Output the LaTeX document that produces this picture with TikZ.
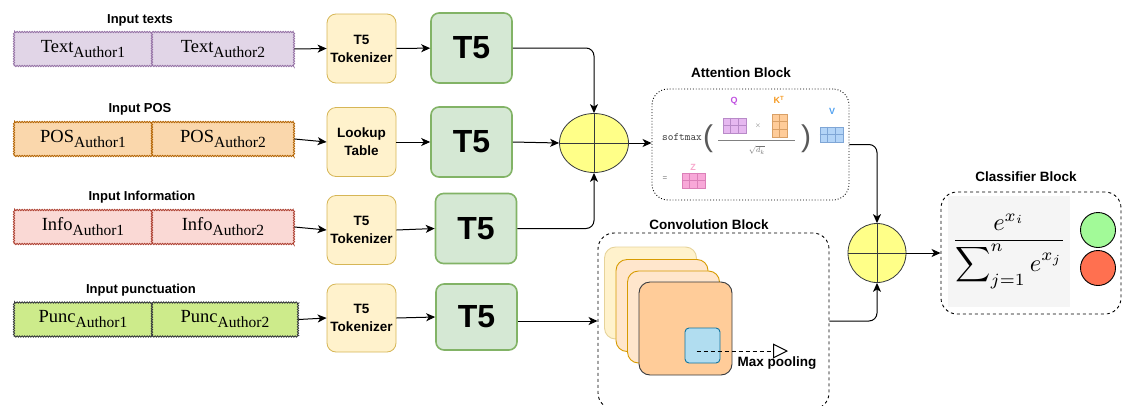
\documentclass[tikz,border=0pt]{standalone}
\usepackage{amsmath}
\usepackage{graphicx}
\usepackage[no-math]{fontspec}
\setmainfont{Liberation Sans}
\newfontfamily\serifface{Liberation Serif}
\usetikzlibrary{shapes.geometric, arrows.meta, positioning, calc, decorations.pathmorphing}
\definecolor{textfill}{HTML}{E1D5E7}
\definecolor{textdraw}{HTML}{9673A6}
\definecolor{posfill}{HTML}{FAD7AC}
\definecolor{posdraw}{HTML}{B46504}
\definecolor{infofill}{HTML}{FAD9D5}
\definecolor{infodraw}{HTML}{AE4132}
\definecolor{puncfill}{HTML}{CDEB8B}
\definecolor{puncdraw}{HTML}{36393D}
\definecolor{tokfill}{HTML}{FFF2CC}
\definecolor{tokdraw}{HTML}{D6B656}
\definecolor{tfivefill}{HTML}{D5E8D4}
\definecolor{tfivedraw}{HTML}{82B366}
\definecolor{sumfill}{HTML}{FFFF88}
\definecolor{darkline}{HTML}{36393D}
\definecolor{layerfill}{HTML}{FFE6CC}
\definecolor{layerdraw}{HTML}{D79B00}
\definecolor{frontfill}{HTML}{FFCC99}
\definecolor{poolfill}{HTML}{B1DDF0}
\definecolor{pooldraw}{HTML}{10739E}
\definecolor{qfill}{HTML}{E6B8F0}
\definecolor{qdraw}{HTML}{B88AC8}
\definecolor{qtext}{HTML}{C050E0}
\definecolor{kfill}{HTML}{FFCC99}
\definecolor{kdraw}{HTML}{D9A066}
\definecolor{ktext}{HTML}{F59A23}
\definecolor{vfill}{HTML}{B3D4F7}
\definecolor{vdraw}{HTML}{7FA6D6}
\definecolor{vtext}{HTML}{4FA0F0}
\definecolor{zfill}{HTML}{F8A8D8}
\definecolor{zdraw}{HTML}{DB80B8}
\definecolor{ztext}{HTML}{F7A8CC}
\definecolor{formgray}{HTML}{F5F5F5}
\definecolor{yesgreen}{HTML}{A2FA98}
\definecolor{nored}{HTML}{FF7050}
\newcommand{\authtext}[2]{{\serifface\fontsize{18.5}{20}\selectfont #1\raisebox{-5pt}{\fontsize{15.5}{16}\selectfont Author#2}}}

\begin{document}
\begin{tikzpicture}[
    x=1pt, y=-1pt,
    inlabel/.style={font=\bfseries\fontsize{13}{15}\selectfont},
    blocklabel/.style={font=\bfseries\fontsize{13.5}{16}\selectfont},
    inbox/.style={rectangle, draw, line width=0.9pt, minimum height=34pt, inner sep=0pt, decorate, decoration={zigzag, segment length=2.5pt, amplitude=0.7pt}},
    tok/.style={rectangle, draw=tokdraw, fill=tokfill, line width=0.8pt, minimum width=69pt, minimum height=69pt, rounded corners=9pt, align=center, inner sep=0pt, font=\bfseries\fontsize{13.5}{18}\selectfont},
    tfive/.style={rectangle, draw=tfivedraw, fill=tfivefill, line width=1.6pt, minimum width=81pt, minimum height=70pt, rounded corners=8pt, inner sep=0pt, font=\bfseries\fontsize{32}{34}\selectfont},
    sum/.style={ellipse, draw=darkline, fill=sumfill, line width=0.8pt, inner sep=0pt},
    sumline/.style={draw=darkline, line width=0.8pt},
    block/.style={rectangle, draw, line width=0.9pt, rounded corners=16pt, inner sep=0pt},
    layer/.style={rectangle, line width=0.9pt, minimum width=92pt, minimum height=92pt, rounded corners=11pt},
    mat/.style={rectangle, line width=0.6pt, inner sep=0pt},
    gridline/.style={line width=0.6pt},
    arrow/.style={->, >={Stealth[length=9pt, width=8pt, inset=2.5pt]}, line width=1pt, rounded corners=8pt},
    pool/.style={-{Triangle[open, length=15pt, width=15pt]}, dashed, dash pattern=on 4pt off 3pt, line width=1pt}
]
    \useasboundingbox (0,0) rectangle (1122,405);

    \node[inlabel] (lbltext) at (140,20) {Input texts};
    \node[inlabel] (lblpos) at (140,109) {Input POS};
    \node[inlabel] (lblinfo) at (142,197) {Input Information};
    \node[inlabel] (lblpunc) at (141,290) {Input punctuation};

    \node[inbox, fill=textfill, draw=textdraw, minimum width=138pt] (text1) at (83,49) {\authtext{Text}{1}};
    \node[inbox, fill=textfill, draw=textdraw, minimum width=142pt] (text2) at (223,49) {\authtext{Text}{2}};
    \node[inbox, fill=posfill, draw=posdraw, minimum width=138pt] (pos1) at (83,139) {\authtext{POS}{1}};
    \node[inbox, fill=posfill, draw=posdraw, minimum width=142pt] (pos2) at (223,139) {\authtext{POS}{2}};
    \node[inbox, fill=infofill, draw=infodraw, minimum width=138pt] (info1) at (83,227) {\authtext{Info}{1}};
    \node[inbox, fill=infofill, draw=infodraw, minimum width=142pt] (info2) at (223,227) {\authtext{Info}{2}};
    \node[inbox, fill=puncfill, draw=puncdraw, minimum width=138pt] (punc1) at (83,319.5) {\authtext{Punc}{1}};
    \node[inbox, fill=puncfill, draw=puncdraw, minimum width=146pt] (punc2) at (225,319.5) {\authtext{Punc}{2}};

    \node[tok] (tok1) at (361.5,48.5) {T5\\Tokenizer};
    \node[tok] (tok2) at (361.5,142) {Lookup\\Table};
    \node[tok] (tok3) at (361.5,230) {T5\\Tokenizer};
    \node[tok, minimum height=68pt] (tok4) at (361.5,318) {T5\\Tokenizer};

    \node[tfive] (tfive1) at (471.5,48) {T5};
    \node[tfive] (tfive2) at (471.5,142) {T5};
    \node[tfive] (tfive3) at (476,228.5) {T5};
    \node[tfive, minimum height=66pt] (tfive4) at (476.5,317) {T5};

    \node[sum, minimum width=69pt, minimum height=59pt] (sum1) at (594,143) {};
    \draw[sumline] (sum1.north) -- (sum1.south) (sum1.west) -- (sum1.east);

    \node[block, dotted, minimum width=197pt, minimum height=111pt] (attn) at (750.5,144.5) {};
    \node[blocklabel] (attnlbl) at (741,73) {Attention Block};
    \node[font=\ttfamily\fontsize{11}{12}\selectfont, text=black!80] (smx) at (682,137) {softmax};
    \node[font=\fontsize{30}{32}\selectfont, text=black!65] (lpar) at (708,139) {(};
    \node[font=\fontsize{30}{32}\selectfont, text=black!65] (rpar) at (806,139) {)};
    \node[mat, fill=qfill, draw=qdraw, minimum width=23pt, minimum height=15pt] (qmat) at (734.5,125.5) {};
    \node[mat, fill=kfill, draw=kdraw, minimum width=15pt, minimum height=23pt] (kmat) at (779.5,125.5) {};
    \node[mat, fill=vfill, draw=vdraw, minimum width=23pt, minimum height=15pt] (vmat) at (831.5,134.5) {};
    \node[mat, fill=zfill, draw=zdraw, minimum width=23pt, minimum height=15pt] (zmat) at (693.5,180.5) {};
    \foreach \m/\c in {qmat/qdraw, vmat/vdraw, zmat/zdraw} {
        \foreach \f in {1,2}
            \draw[gridline, draw=\c] ($(\m.north west)!\f/3!(\m.north east)$) -- ($(\m.south west)!\f/3!(\m.south east)$);
        \draw[gridline, draw=\c] (\m.west) -- (\m.east);
    }
    \foreach \f in {1,2}
        \draw[gridline, draw=kdraw] ($(kmat.north west)!\f/3!(kmat.south west)$) -- ($(kmat.north east)!\f/3!(kmat.south east)$);
    \draw[gridline, draw=kdraw] (kmat.north) -- (kmat.south);
    \node[font=\bfseries\fontsize{9}{10}\selectfont, text=qtext] (qlbl) at (734,101) {Q};
    \node[font=\bfseries\fontsize{9}{10}\selectfont, text=ktext] (klbl) at (779,100) {K\textsuperscript{T}};
    \node[font=\bfseries\fontsize{9}{10}\selectfont, text=vtext] (vlbl) at (832,111) {V};
    \node[font=\bfseries\fontsize{9}{10}\selectfont, text=ztext] (zlbl) at (693,167) {Z};
    \node[font=\fontsize{7}{8}\selectfont, text=black!55] (times) at (758,126) {$\times$};
    \draw[black!50, line width=0.6pt] (718,140) -- (795,140);
    \node[font=\fontsize{8}{9}\selectfont, text=black!55] (sqrtdk) at (757,150) {$\sqrt{d_k}$};
    \node[font=\fontsize{8}{9}\selectfont, text=black!55] (eqsign) at (665,179) {=};

    \node[block, dashed, minimum width=231pt, minimum height=176pt] (conv) at (713.5,321) {};
    \node[blocklabel] (convlbl) at (709,225) {Convolution Block};
    \node[layer, fill=tokfill, draw=tokdraw!60] (layer1) at (650.5,293) {};
    \node[layer, fill=layerfill, draw=layerdraw] (layer2) at (662,305.5) {};
    \node[layer, fill=layerfill, draw=layerdraw] (layer3) at (673.5,317) {};
    \node[layer, fill=frontfill, draw=darkline, minimum width=93pt, minimum height=93pt] (layer4) at (685.5,328.5) {};
    \node[rectangle, fill=poolfill, draw=pooldraw, line width=0.9pt, minimum width=35pt, minimum height=35pt, rounded corners=4pt] (poolwin) at (702.5,345.5) {};
    \coordinate (poolend) at (788,351);
    \draw[pool] ([xshift=-6pt, yshift=-5.5pt]poolwin.center) -- (poolend);
    \node[blocklabel] (maxpool) at (777,363) {Max pooling};

    \node[sum, minimum width=58pt, minimum height=59pt] (sum2) at (877,253) {};
    \draw[sumline] (sum2.north) -- (sum2.south) (sum2.west) -- (sum2.east);

    \node[block, dashed, minimum width=180pt, minimum height=122pt] (cls) at (1031,253) {};
    \node[blocklabel] (clslbl) at (1026,177) {Classifier Block};
    \node[rectangle, fill=formgray, minimum width=122pt, minimum height=111pt, inner sep=0pt] (soft) at (1009,251.5) {\scalebox{2.45}{$\displaystyle\frac{e^{x_i}}{\displaystyle\sum\nolimits_{j=1}^{n} e^{x_j}}$}};
    \node[circle, fill=yesgreen, draw=black, line width=0.9pt, minimum size=35pt] (yes) at (1098,230) {};
    \node[circle, fill=nored, draw=black, line width=0.9pt, minimum size=35pt] (no) at (1098,268) {};

    \draw[arrow] (text2.east) -- (tok1.west);
    \draw[arrow] (pos2.east) -- (tok2.west);
    \draw[arrow] (info2.east) -- (tok3.west);
    \draw[arrow] (punc2.east) -- (tok4.west);
    \draw[arrow] (tok1) -- (tfive1);
    \draw[arrow] (tok2) -- (tfive2);
    \draw[arrow] (tok3.east) -- (tfive3.west);
    \draw[arrow] (tok4.east) -- (tfive4.west);
    \draw[arrow] (tfive1.east) -| (sum1.north);
    \draw[arrow] (tfive2.east) -- (sum1.west);
    \draw[arrow] (tfive3.east) -| (sum1.south);
    \draw[arrow] (sum1.east) -- (sum1.east -| attn.west);
    \draw[arrow] (attn.east) -| (sum2.north);
    \draw[arrow] (tfive4.east |- conv.west) -- (conv.west);
    \draw[arrow] (conv.east) -| (sum2.south);
    \draw[arrow] (sum2.east) -- (cls.west);
\end{tikzpicture}
\end{document}
